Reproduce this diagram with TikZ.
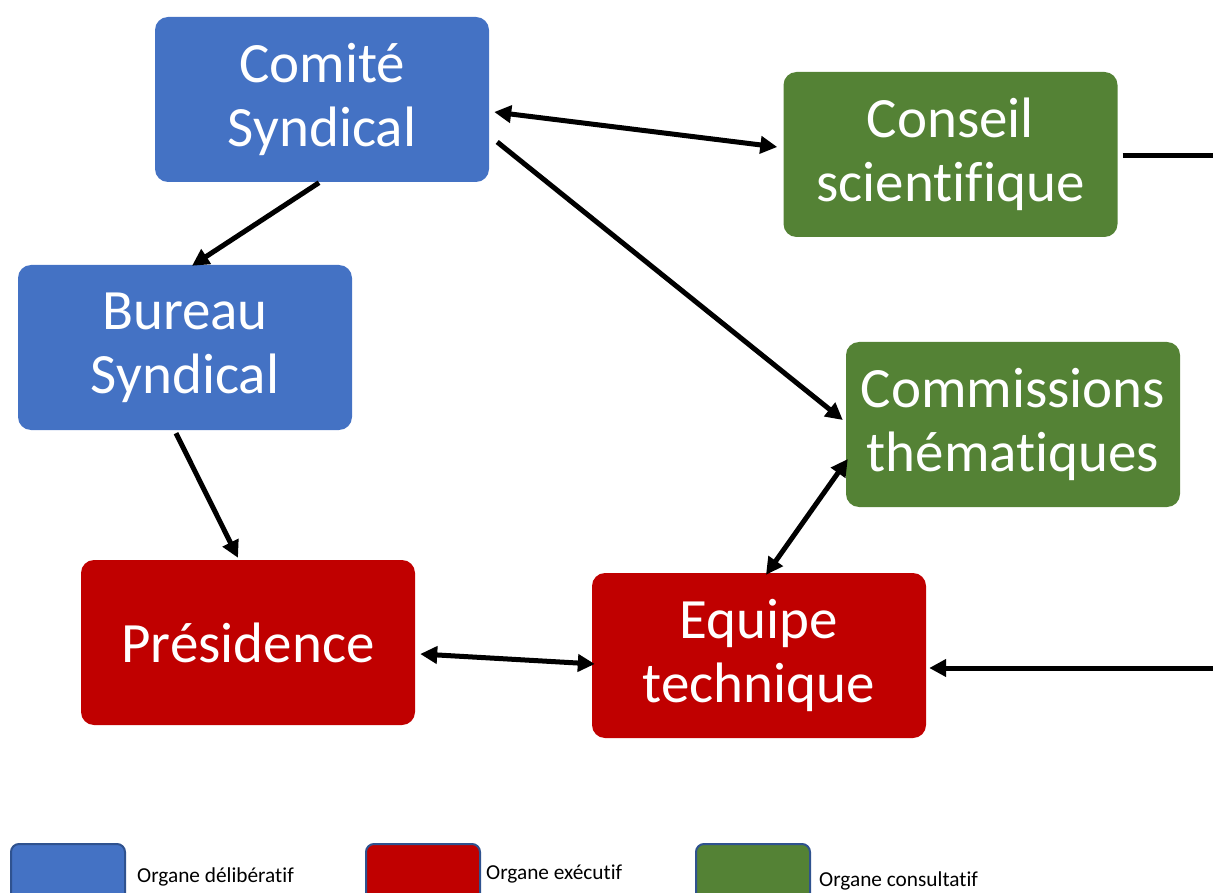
\documentclass[tikz,border=0pt]{standalone}
\usepackage{fontspec}
\setmainfont{Carlito}[Ligatures=NoCommon]
\usetikzlibrary{arrows.meta,calc}
\definecolor{cblue}{HTML}{4472C4}
\definecolor{cred}{HTML}{C00000}
\definecolor{cgreen}{HTML}{548235}
\definecolor{cborder}{HTML}{2F528F}
\tikzset{
  box/.style={rounded corners=13pt, minimum width=334pt, minimum height=165pt,
    inner sep=0pt, align=center, text=white,
    font=\fontsize{57}{64}\selectfont},
  lbox/.style={rounded corners=8pt, draw=cborder, line width=2pt,
    minimum width=114pt, minimum height=60pt, inner sep=0pt, anchor=north west},
  ltext/.style={anchor=base west, inner sep=0pt, font=\fontsize{21.3}{24}\selectfont},
  conn/.style={line width=5pt},
  arr/.style={conn, -{Triangle[length=17pt,width=17pt]}},
  darr/.style={conn, {Triangle[length=17pt,width=17pt]}-{Triangle[length=17pt,width=17pt]}},
}
\begin{document}
\begin{tikzpicture}[x=1pt,y=-1pt]
\useasboundingbox (0,0) rectangle (1213,893);
% nodes
\node[box, fill=cblue] (comite) at (322,99.5) {Comité\\Syndical};
\node[box, fill=cgreen] (conseil) at (950.5,154.5) {Conseil\\scientifique};
\node[box, fill=cblue] (bureau) at (185,347.5) {Bureau\\Syndical};
\node[box, fill=cgreen] (commissions) at (1013,424.5) {Commissions\\thématiques};
\node[box, fill=cred] (presidence) at (248,642.5) {Présidence};
\node[box, fill=cred] (equipe) at (759,655.5) {Equipe\\technique};
% off-picture ends
\coordinate (rtop) at (1214,156);
\coordinate (rbot) at (1214,668);
% connectors
\draw[arr] ($(comite.south)+(-3,0.5)$) -- ($(bureau.north)+(7,1)$);
\draw[arr] ($(bureau.south)+(-9,3)$) -- ($(presidence.north)+(-10,-2)$);
\draw[darr] ($(comite.east)+(5,12.5)$) -- ($(conseil.west)+(-6,-7.5)$);
\draw[arr] ($(comite.east)+(8,42.5)$) -- ($(commissions.west)+(-3,-4.5)$);
\draw[darr] ($(commissions.west)+(2,34.5)$) -- ($(equipe.north)+(7,2)$);
\draw[darr] ($(presidence.east)+(5,11.5)$) -- ($(equipe.west)+(3,8.5)$);
\draw[conn] ($(conseil.east)+(5,1.5)$) -- (rtop);
\draw[arr] (rbot) -- ($(equipe.east)+(3,12.5)$);
% legend
\node[lbox, fill=cblue] (lb1) at (10,843) {};
\node[lbox, fill=cred] (lb2) at (365,843) {};
\node[lbox, fill=cgreen] (lb3) at (695,843) {};
\node[ltext] (lt1) at (137,882) {Organe délibératif};
\node[ltext] (lt2) at (486,879) {Organe exécutif};
\node[ltext] (lt3) at (819,886) {Organe consultatif};
\end{tikzpicture}
\end{document}
